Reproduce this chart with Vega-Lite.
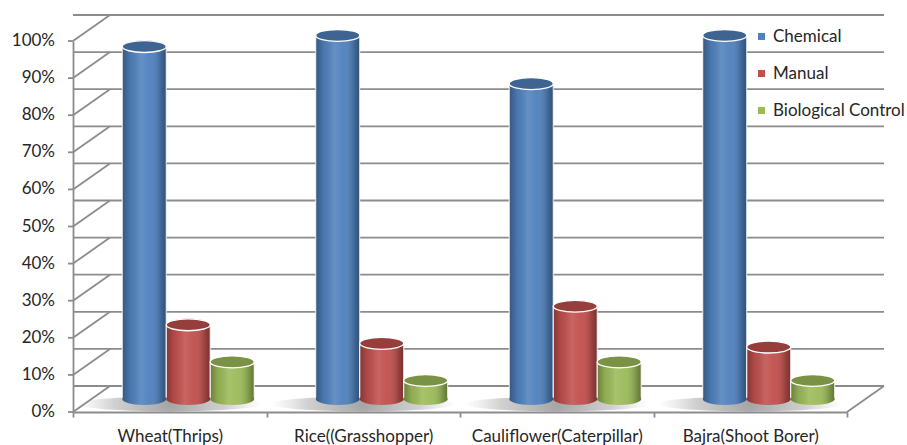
{
  "$schema": "https://vega.github.io/schema/vega-lite/v6.json",
  "width": 774,
  "height": 371,
  "autosize": {"type": "none"},
  "padding": {"left": 73, "top": 41, "right": 60, "bottom": 33},
  "background": "white",
  "config": {
    "view": {"stroke": null},
    "font": "Lato",
    "axis": {"labelFontSize": 17, "labelFont": "Lato", "labelColor": "#262626", "labelPadding": 12,
             "tickSize": 5, "tickColor": "#8c8c8c", "tickWidth": 1.8, "domainColor": "#8c8c8c", "domainWidth": 1.8,
             "grid": false, "title": null},
    "axisY": {"labels": false, "ticks": false},
    "axisX": {"labelAngle": 0, "tickBand": "extent", "bandPosition": 0.5, "labelAlign": "center", "labelFlush": false, "labelPadding": 11}
  },
  "datasets": {
    "control": [
      {"crop": "Wheat(Thrips)", "method": "Chemical", "value": 0.95},
      {"crop": "Wheat(Thrips)", "method": "Manual", "value": 0.20},
      {"crop": "Wheat(Thrips)", "method": "Biological Control", "value": 0.10},
      {"crop": "Rice((Grasshopper)", "method": "Chemical", "value": 0.98},
      {"crop": "Rice((Grasshopper)", "method": "Manual", "value": 0.15},
      {"crop": "Rice((Grasshopper)", "method": "Biological Control", "value": 0.05},
      {"crop": "Cauliflower(Caterpillar)", "method": "Chemical", "value": 0.85},
      {"crop": "Cauliflower(Caterpillar)", "method": "Manual", "value": 0.25},
      {"crop": "Cauliflower(Caterpillar)", "method": "Biological Control", "value": 0.10},
      {"crop": "Bajra(Shoot Borer)", "method": "Chemical", "value": 0.98},
      {"crop": "Bajra(Shoot Borer)", "method": "Manual", "value": 0.14},
      {"crop": "Bajra(Shoot Borer)", "method": "Biological Control", "value": 0.05}
    ],
    "levels": [
      {"v": 0}, {"v": 0.1}, {"v": 0.2}, {"v": 0.3}, {"v": 0.4}, {"v": 0.5},
      {"v": 0.6}, {"v": 0.7}, {"v": 0.8}, {"v": 0.9}, {"v": 1}
    ]
  },
  "layer": [
    {
      "description": "back wall gridlines",
      "data": {"name": "levels"},
      "mark": {"type": "rule", "color": "#8c8c8c", "strokeWidth": 1.8, "xOffset": 37, "x2Offset": 37, "yOffset": -26},
      "encoding": {
        "y": {"field": "v", "type": "quantitative", "scale": {"domain": [0, 1]}, "title": null,
              "axis": {"labels": false, "ticks": false}}
      }
    },
    {
      "description": "side wall diagonals",
      "data": {"name": "levels"},
      "mark": {"type": "rule", "color": "#8c8c8c", "strokeWidth": 1.8, "x2Offset": 37, "y2Offset": -26},
      "encoding": {
        "x": {"datum": "Wheat(Thrips)", "type": "nominal", "bandPosition": 0, "title": null},
        "x2": {"datum": "Wheat(Thrips)", "bandPosition": 0},
        "y": {"field": "v", "type": "quantitative", "title": null},
        "y2": {"field": "v"}
      }
    },
    {
      "description": "value axis tick marks",
      "data": {"name": "levels"},
      "mark": {"type": "rule", "color": "#8c8c8c", "strokeWidth": 1.8, "x2Offset": -5},
      "encoding": {
        "x": {"datum": "Wheat(Thrips)", "type": "nominal", "bandPosition": 0, "title": null},
        "x2": {"datum": "Wheat(Thrips)", "bandPosition": 0},
        "y": {"field": "v", "type": "quantitative", "title": null},
        "y2": {"field": "v"}
      }
    },
    {
      "description": "value axis labels",
      "data": {"name": "levels"},
      "mark": {"type": "text", "align": "right", "baseline": "middle", "dx": -18, "fontSize": 17, "font": "Lato", "color": "#262626"},
      "encoding": {
        "x": {"datum": "Wheat(Thrips)", "type": "nominal", "bandPosition": 0, "title": null},
        "y": {"field": "v", "type": "quantitative", "title": null},
        "text": {"field": "v", "type": "quantitative", "format": ".0%"}
      }
    },
    {
      "description": "floor right edge",
      "data": {"name": "levels"},
      "transform": [{"filter": "datum.v == 0"}],
      "mark": {"type": "rule", "color": "#8c8c8c", "strokeWidth": 1.8, "x2Offset": 37, "y2Offset": -26},
      "encoding": {
        "x": {"datum": "Bajra(Shoot Borer)", "type": "nominal", "bandPosition": 1, "title": null},
        "x2": {"datum": "Bajra(Shoot Borer)", "bandPosition": 1},
        "y": {"field": "v", "type": "quantitative", "title": null},
        "y2": {"field": "v"}
      }
    },
    {
      "description": "soft floor shadow under each group",
      "data": {"name": "control"},
      "transform": [{"filter": "datum.method == 'Chemical'"}],
      "mark": {"type": "point", "filled": true, "opacity": 1, "size": 34000, "strokeWidth": 0,
               "shape": "M-1,0A1,0.08,0,1,1,1,0A1,0.08,0,1,1,-1,0Z", "yOffset": -8,
               "fill": {"gradient": "radial", "x1": 0.5, "y1": 0.5, "r1": 0, "x2": 0.5, "y2": 0.5, "r2": 0.5, "stops": [
                 {"offset": 0, "color": "rgba(90,90,90,0.55)"},
                 {"offset": 0.6, "color": "rgba(120,120,120,0.35)"},
                 {"offset": 1, "color": "rgba(160,160,160,0)"}]}},
      "encoding": {
        "x": {"field": "crop", "type": "nominal", "title": null},
        "y": {"datum": 0, "type": "quantitative", "title": null}
      }
    },
    {
      "description": "cylinder bodies",
      "data": {"name": "control"},
      "mark": {"type": "bar", "yOffset": -13, "y2Offset": -13},
      "encoding": {
        "x": {
          "field": "crop", "type": "nominal", "title": null,
          "scale": {"domain": ["Wheat(Thrips)", "Rice((Grasshopper)", "Cauliflower(Caterpillar)", "Bajra(Shoot Borer)"], "paddingInner": 0, "paddingOuter": 0},
          "axis": {"labelAngle": 0, "tickBand": "extent", "bandPosition": 0.5, "labelAlign": "center", "labelFlush": false, "labelPadding": 11}
        },
        "xOffset": {"field": "method", "type": "nominal",
          "scale": {"domain": ["Chemical", "Manual", "Biological Control"], "paddingInner": 0, "paddingOuter": 0.7, "align": 0.8}},
        "y": {
          "field": "value", "type": "quantitative", "title": null,
          "scale": {"domain": [0, 1]},
          "axis": {"labels": false, "ticks": false}
        },
        "y2": {"datum": 0},
        "color": {
          "field": "method", "type": "nominal",
          "scale": {"domain": ["Chemical", "Manual", "Biological Control"], "range": ["#4F81BD", "#C0504D", "#9BBB59"]},
          "legend": {"orient": "none", "legendX": 680, "legendY": -13, "title": null, "symbolType": "square", "symbolSize": 49,
                     "symbolStrokeWidth": 0, "symbolOpacity": 1, "labelFontSize": 17, "labelFont": "Lato", "labelColor": "#262626",
                     "rowPadding": 19, "labelOffset": 3, "padding": 0}
        }
      }
    },
    {
      "description": "cylinder body shading and outline",
      "data": {"name": "control"},
      "mark": {"type": "bar", "yOffset": -13, "y2Offset": -13, "stroke": "white", "strokeWidth": 1, "strokeOpacity": 0.9,
        "fill": {"gradient": "linear", "x1": 0, "x2": 1, "y1": 0, "y2": 0, "stops": [
          {"offset": 0, "color": "rgba(0,0,0,0.32)"},
          {"offset": 0.18, "color": "rgba(0,0,0,0.08)"},
          {"offset": 0.42, "color": "rgba(255,255,255,0.12)"},
          {"offset": 0.62, "color": "rgba(255,255,255,0.04)"},
          {"offset": 0.88, "color": "rgba(0,0,0,0.2)"},
          {"offset": 1, "color": "rgba(0,0,0,0.38)"}]}},
      "encoding": {
        "x": {"field": "crop", "type": "nominal", "title": null},
        "xOffset": {"field": "method", "type": "nominal"},
        "y": {"field": "value", "type": "quantitative", "title": null},
        "y2": {"datum": 0}
      }
    },
    {
      "description": "cylinder bottoms",
      "data": {"name": "control"},
      "mark": {"type": "point", "filled": true, "opacity": 1, "size": 1936, "shape": "M-1,0A1,0.27,0,1,1,1,0A1,0.27,0,1,1,-1,0Z", "yOffset": -13, "strokeWidth": 0},
      "encoding": {
        "x": {"field": "crop", "type": "nominal", "title": null},
        "xOffset": {"field": "method", "type": "nominal"},
        "y": {"datum": 0, "type": "quantitative", "title": null},
        "color": {"field": "method", "type": "nominal"}
      }
    },
    {
      "description": "cylinder bottoms shading",
      "data": {"name": "control"},
      "mark": {"type": "point", "filled": true, "opacity": 1, "size": 1936, "shape": "M-1,0A1,0.27,0,1,1,1,0A1,0.27,0,1,1,-1,0Z", "yOffset": -13, "strokeWidth": 0,
        "fill": {"gradient": "linear", "x1": 0, "x2": 1, "y1": 0, "y2": 0, "stops": [
          {"offset": 0, "color": "rgba(0,0,0,0.32)"},
          {"offset": 0.18, "color": "rgba(0,0,0,0.08)"},
          {"offset": 0.42, "color": "rgba(255,255,255,0.12)"},
          {"offset": 0.62, "color": "rgba(255,255,255,0.04)"},
          {"offset": 0.88, "color": "rgba(0,0,0,0.2)"},
          {"offset": 1, "color": "rgba(0,0,0,0.38)"}]}},
      "encoding": {
        "x": {"field": "crop", "type": "nominal", "title": null},
        "xOffset": {"field": "method", "type": "nominal"},
        "y": {"datum": 0, "type": "quantitative", "title": null}
      }
    },
    {
      "description": "cylinder tops",
      "data": {"name": "control"},
      "mark": {"type": "point", "filled": true, "opacity": 1, "size": 1936, "shape": "M-1,0A1,0.27,0,1,1,1,0A1,0.27,0,1,1,-1,0Z", "yOffset": -13, "strokeWidth": 0},
      "encoding": {
        "x": {"field": "crop", "type": "nominal", "title": null},
        "xOffset": {"field": "method", "type": "nominal"},
        "y": {"field": "value", "type": "quantitative", "title": null},
        "color": {"field": "method", "type": "nominal"}
      }
    },
    {
      "description": "cylinder top shade and rim",
      "data": {"name": "control"},
      "mark": {"type": "point", "filled": true, "opacity": 1, "fill": "black", "fillOpacity": 0.22, "stroke": "white", "strokeWidth": 1.3, "strokeOpacity": 1,
               "size": 1936, "shape": "M-1,0A1,0.27,0,1,1,1,0A1,0.27,0,1,1,-1,0Z", "yOffset": -13},
      "encoding": {
        "x": {"field": "crop", "type": "nominal", "title": null},
        "xOffset": {"field": "method", "type": "nominal"},
        "y": {"field": "value", "type": "quantitative", "title": null}
      }
    }
  ]
}
